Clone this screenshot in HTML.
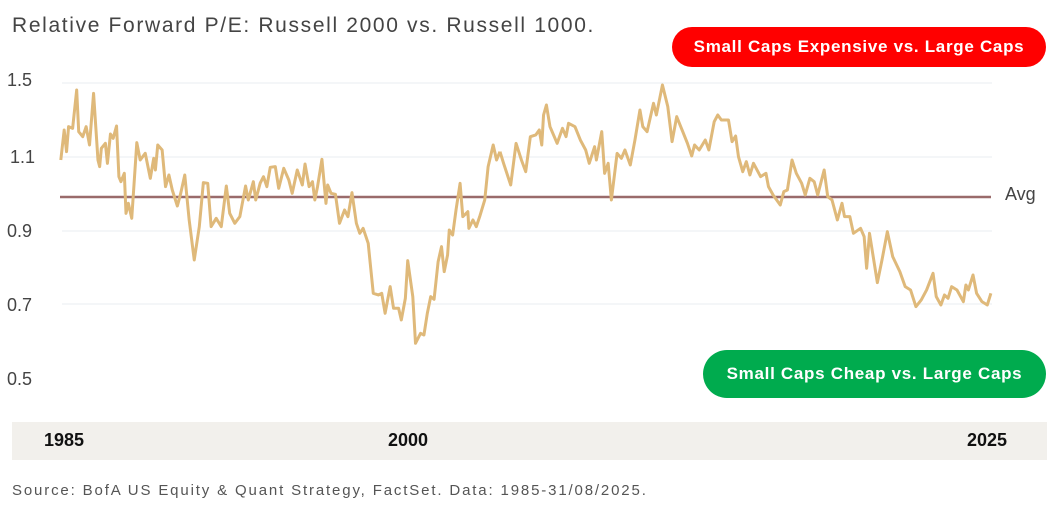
<!DOCTYPE html>
<html><head><meta charset="utf-8"><style>
body{margin:0;width:1060px;height:514px;background:#fff;font-family:"Liberation Sans",sans-serif;position:relative;overflow:hidden}
.t{position:absolute;white-space:nowrap}
.pill{position:absolute;color:#fff;font-weight:bold;font-size:17px;letter-spacing:0.7px;display:flex;align-items:center;justify-content:center;border-radius:20px}
</style></head><body>
<div class="t" style="left:12px;top:14px;font-size:21px;letter-spacing:1.65px;color:#444">Relative Forward P/E: Russell 2000 vs. Russell 1000.</div>
<div class="pill" style="left:672px;top:27px;width:374px;height:40px;background:#ff0000">Small Caps Expensive vs. Large Caps</div>
<div class="pill" style="left:703px;top:350px;width:343px;height:48px;background:#00ab4e;border-radius:24px">Small Caps Cheap vs. Large Caps</div>
<div style="position:absolute;left:12px;top:422px;width:1035px;height:38px;background:#f2f0ec"></div>
<div class="t" style="left:44px;top:430px;font-size:18px;font-weight:bold;color:#111">1985</div>
<div class="t" style="left:388px;top:430px;font-size:18px;font-weight:bold;color:#111">2000</div>
<div class="t" style="left:967px;top:430px;font-size:18px;font-weight:bold;color:#111">2025</div>
<div class="t" style="left:12px;top:482px;font-size:15px;letter-spacing:1.85px;color:#555">Source: BofA US Equity &amp; Quant Strategy, FactSet. Data: 1985-31/08/2025.</div>
<svg width="1060" height="514" style="position:absolute;left:0;top:0">
<g stroke="#e8edf2" stroke-width="1">
<line x1="62" y1="83" x2="992" y2="83"/><line x1="62" y1="157" x2="992" y2="157"/><line x1="62" y1="231" x2="992" y2="231"/><line x1="62" y1="304" x2="992" y2="304"/>
</g>
<g font-size="18" fill="#444" font-family="Liberation Sans,sans-serif" text-anchor="start">
<text x="7" y="86">1.5</text><text x="10" y="163">1.1</text><text x="7" y="237">0.9</text><text x="7" y="311">0.7</text><text x="7" y="385">0.5</text>
<text x="1005" y="200">Avg</text>
</g>
<line x1="60" y1="197" x2="991" y2="197" stroke="#9a6b6b" stroke-width="2.5"/>
<g transform="translate(0,60) scale(0.3378,0.3333)" fill="none" stroke="#dfb97a" stroke-width="3" stroke-linejoin="round">
<polyline vector-effect="non-scaling-stroke" points="180,300 190,210 197,275 203,200 215,205 227,90 233,215 245,230 255,200 265,255 277,100 290,300 295,320 300,265 312,250 318,310 327,222 335,235 345,198 352,350 358,365 368,340 373,460 380,430 390,475 405,248 415,300 430,280 445,355 455,295 460,330 467,255 480,270 490,380 500,345 510,390 525,438 535,400 547,345 560,480 575,600 590,500 602,368 615,370 625,500 640,475 655,500 670,378 680,460 695,490 710,470 727,378 735,420 750,365 757,420 770,370 780,350 790,380 800,322 815,320 825,385 840,325 855,360 865,400 880,330 895,375 903,312 915,380 925,365 932,420 940,380 953,298 965,430 970,375 980,400 993,403 1005,490 1020,450 1030,470 1042,398 1055,490 1065,520 1075,505 1090,550 1105,700 1120,705 1130,700 1140,760 1155,680 1165,745 1180,745 1188,780 1200,715 1207,602 1222,710 1230,850 1245,820 1255,825 1265,760 1275,710 1285,718 1297,605 1307,560 1315,635 1325,585 1330,510 1340,525 1350,450 1362,370 1370,470 1385,455 1388,505 1400,480 1410,500 1420,470 1435,420 1445,320 1460,255 1470,300 1480,275"/>
</g>
<g transform="translate(500,60) scale(0.357,0.3333)" fill="none" stroke="#dfb97a" stroke-width="3" stroke-linejoin="round">
<polyline vector-effect="non-scaling-stroke" points="0,275 10,310 30,375 45,250 60,300 72,335 85,230 100,225 110,210 117,255 122,165 130,135 140,200 160,250 175,205 185,230 192,190 210,200 225,240 240,270 250,310 265,260 270,300 285,215 293,340 303,310 312,420 328,280 340,295 350,270 365,315 378,240 392,150 400,200 412,215 430,130 438,165 455,75 470,140 482,245 495,170 510,210 525,250 537,288 545,255 558,270 575,240 585,270 600,185 610,165 620,180 640,180 650,245 660,228 668,290 680,335 690,305 700,345 710,310 730,350 745,340 752,380 765,405 785,435 795,395 805,390 818,300 830,340 845,370 855,405 868,355 880,365 890,405 908,330 918,410 930,420 945,480 958,430 965,470 980,470 990,520 1010,505 1020,530 1027,625 1035,520 1057,668 1070,600 1085,515 1100,590 1120,635 1135,680 1150,690 1165,740 1180,720 1195,690 1213,640 1222,710 1235,735 1245,705 1255,715 1265,680 1280,690 1298,725 1305,675 1312,690 1325,645 1335,700 1350,725 1365,735 1375,700"/>
</g>
</svg>
</body></html>
